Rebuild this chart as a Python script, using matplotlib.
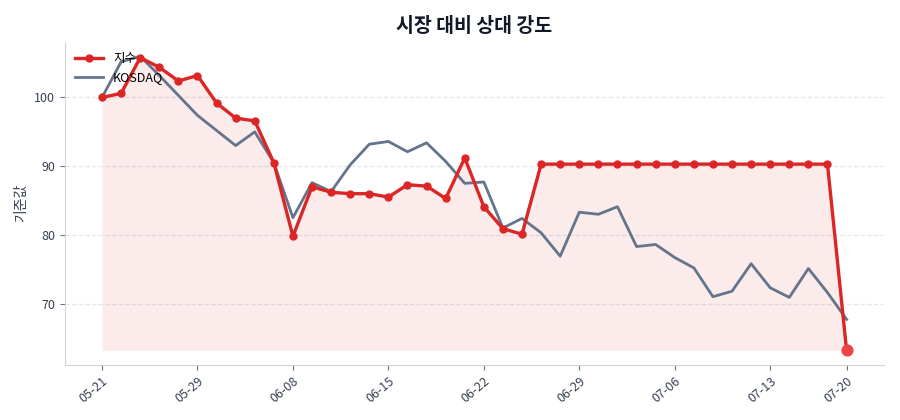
import matplotlib
matplotlib.use("Agg")
from matplotlib import pyplot as plt
import numpy as np

plt.rcParams['font.family'] = ['Noto Sans CJK KR', 'DejaVu Sans']

# data
tick_labels = ["05-21", "05-29", "06-08", "06-15", "06-22", "06-29", "07-06", "07-13", "07-20"]
tick_index = [0, 5, 10, 15, 20, 25, 30, 35, 39]

stock = [100.0, 100.6, 105.8, 104.4, 102.4, 103.2, 99.2, 97.0, 96.6, 90.5,
         79.8, 87.0, 86.2, 86.0, 86.0, 85.5, 87.3, 87.1, 85.3, 91.2,
         84.1, 80.9, 80.1, 90.3, 90.3, 90.3, 90.3, 90.3, 90.3, 90.3,
         90.3, 90.3, 90.3, 90.3, 90.3, 90.3, 90.3, 90.3, 90.3, 63.2]

kosdaq = [100.0, 105.2, 106.0, 103.2, 100.3, 97.4, 95.2, 93.0, 95.0, 90.5,
          82.5, 87.6, 86.3, 90.2, 93.2, 93.6, 92.1, 93.4, 90.7, 87.5,
          87.7, 81.0, 82.4, 80.3, 76.9, 83.3, 83.0, 84.1, 78.3, 78.6,
          76.7, 75.2, 71.0, 71.8, 75.8, 72.3, 70.9, 75.1, 71.6, 67.7]

x = np.arange(len(stock))

fig, ax = plt.subplots(figsize=(9, 4.2), dpi=100)
fig.subplots_adjust(left=0.072, right=0.982, bottom=0.131, top=0.901)

ax.fill_between(x, stock, min(stock), color="#dc2626", alpha=0.09, linewidth=0)
ax.plot(x, stock, color="#dc2626", linewidth=2.4, marker="o", markersize=5, label="지수", zorder=3)
ax.plot(x, kosdaq, color="#64748b", linewidth=2.0, label="KOSDAQ", zorder=2)
ax.scatter([x[-1]], [stock[-1]], s=60, color="#ef4444", zorder=4)

ax.set_title("시장 대비 상대 강도", fontsize=14, fontweight="bold", color="#111827", pad=7)
ax.set_ylabel("기준값", fontsize=10, color="#374151")

ax.set_xticks(tick_index)
ax.set_xticklabels(tick_labels, rotation=40, ha="right", rotation_mode="anchor")
ax.set_yticks([70, 80, 90, 100])

ax.grid(axis="y", linestyle="--", color="#e5e7eb", linewidth=0.9)
ax.set_axisbelow(True)
for s in ["top", "right"]:
    ax.spines[s].set_visible(False)
for s in ["left", "bottom"]:
    ax.spines[s].set_color("#d1d5db")
ax.tick_params(colors="#374151", labelsize=9)
ax.tick_params(axis="both", color="#6b7280")

ax.legend(loc="upper left", frameon=False, fontsize=9, handlelength=2.2, borderaxespad=0.45)

plt.savefig("out.png", dpi=100)
